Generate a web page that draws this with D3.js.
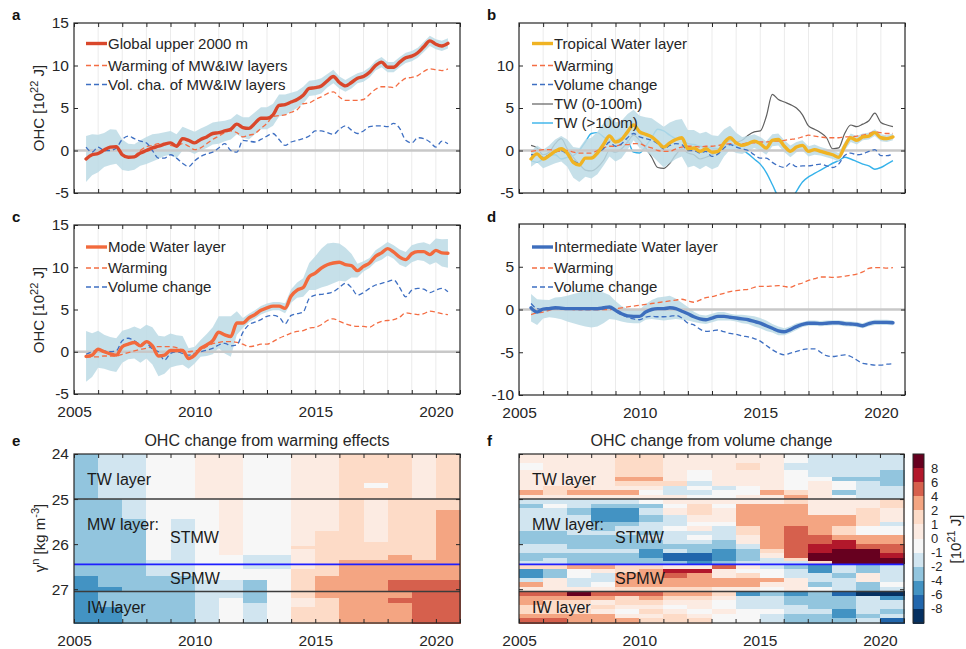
<!DOCTYPE html>
<html>
<head>
<meta charset="utf-8">
<script src="https://cdn.jsdelivr.net/npm/d3@7"></script>
<style>
  body { margin: 0; background: #fff; }
  svg { font-family: "Liberation Sans", Arial, Helvetica, sans-serif; }
</style>
</head>
<body>
<svg id="chart" width="966" height="649"></svg>
<script>
// ---- time grid (quarterly samples) ----
var quarters = [2005.5, 2005.75,
  2006, 2006.25, 2006.5, 2006.75, 2007, 2007.25, 2007.5, 2007.75,
  2008, 2008.25, 2008.5, 2008.75, 2009, 2009.25, 2009.5, 2009.75,
  2010, 2010.25, 2010.5, 2010.75, 2011, 2011.25, 2011.5, 2011.75,
  2012, 2012.25, 2012.5, 2012.75, 2013, 2013.25, 2013.5, 2013.75,
  2014, 2014.25, 2014.5, 2014.75, 2015, 2015.25, 2015.5, 2015.75,
  2016, 2016.25, 2016.5, 2016.75, 2017, 2017.25, 2017.5, 2017.75,
  2018, 2018.25, 2018.5, 2018.75, 2019, 2019.25, 2019.5, 2019.75,
  2020, 2020.25, 2020.5];

// ---- panel a : global upper 2000 m ----
var aMain = [-1.0, -0.5,
  -0.35, 0.05, 0.4, 0.45,  -0.5, -0.8, -0.75, -0.3,
  0.0, 0.3, 0.5, 0.75,  0.9, 0.5, 1.4, 1.2,
  0.9, 1.3, 1.6, 2.0,  2.1, 2.3, 2.5, 3.1,
  2.7, 2.6, 3.2, 3.8,  3.8, 4.2, 5.3, 5.4,
  5.7, 6.0, 6.5, 7.3,  7.4, 7.6, 8.2, 8.7,
  8.0, 7.6, 8.0, 8.5,  8.7, 9.2, 10.0, 10.4,
  9.8, 9.8, 10.4, 10.9,  11.1, 11.5, 12.2, 12.9,
  12.5, 12.3, 12.6];
var aWarm = [null, null,
  null, null, null, null,  null, null, -0.7, 0.0,
  0.45, 0.6, 0.8, 0.85,  0.6, 0.5, 0.8, 0.5,
  0.1, 0.3, 0.8, 1.3,  1.7, 2.1, 2.3, 2.1,
  1.6, 1.8, 2.0, 2.6,  3.2, 4.0, 4.1, 4.2,
  4.5, 4.8, 5.5, 5.6,  6.0, 6.3, 6.7, 6.9,
  6.3, 5.9, 5.9, 5.9,  6.0, 6.6, 7.2, 7.5,
  7.5, 7.4, 8.0, 8.5,  8.6, 8.8, 9.3, 9.6,
  9.5, 9.4, 9.6];
var aVol = [0.4, -0.2,
  0.4, 0.0, 0.0, 0.3,  1.3, 1.7, 1.4, 1.1,
  0.9, 0.0, -0.9, -0.9,  -0.5, -0.9, -1.5, -1.9,
  -1.2, -0.7, -0.4, -0.2,  0.3, 0.8, 0.0, -0.2,
  1.2, 1.1, 1.0, 1.3,  1.7, 2.0, 1.3, 0.6,
  1.0, 1.2, 1.4, 1.7,  2.3, 2.3, 2.1, 1.9,
  2.5, 2.9, 2.4, 2.0,  2.3, 2.8, 2.9, 2.9,
  2.8, 3.2, 2.6, 1.2,  0.9, 1.5, 1.4, 1.0,
  0.4, 1.1, 0.8];
var aBand = [2.7, 2.4,
  2.2, 2.0, 2.1, 2.0,  1.8, 1.6, 1.5, 1.5,
  1.6, 1.6, 1.5, 1.4,  1.4, 1.4, 1.4, 1.3,
  1.3, 1.3, 1.3, 1.3,  1.3, 1.2, 1.2, 1.2,
  1.2, 1.3, 1.3, 1.3,  1.3, 1.3, 1.3, 1.2,
  1.1, 1.0, 1.0, 0.9,  0.9, 0.9, 0.8, 0.8,
  0.7, 0.7, 0.7, 0.6,  0.6, 0.6, 0.6, 0.6,
  0.6, 0.6, 0.6, 0.6,  0.6, 0.6, 0.6, 0.6,
  0.6, 0.6, 0.6];

// ---- panel b : tropical water layer ----
var bMain = [-1.0, -0.4,
  -1.0, -0.6, -0.1, 0.2,  -0.3, -1.4, -1.7, -0.9,
  -0.9, -0.3, 0.7, 1.7,  1.0, 1.3, 2.2, 3.0,
  2.2, 1.9, 1.6, 1.0,  0.4, 0.9, 1.3, 1.5,
  0.2, 0.3, -0.1, 0.2,  -0.2, -0.1, 0.9, 1.5,
  0.9, 0.6, 0.8, 1.1,  0.8, 0.3, 1.2, 1.3,
  0.5, -0.1, 0.4, 0.6,  -0.1, 0.1, -0.1, -0.3,
  -0.5, -0.8, 0.5, 1.5,  1.2, 1.6, 1.7, 2.1,
  1.5, 1.4, 1.6];
var bWarm = [-0.1, 0.0,
  0.1, 0.1, 0.0, -0.1,  0.0, -0.2, -0.3, -0.3,
  -0.3, 0.0, 0.3, 0.5,  0.5, 0.7, 0.7, 0.8,
  0.8, 0.5, 0.3, 0.0,  -0.1, -0.1, 0.2, 0.4,
  0.5, 0.5, 0.4, 0.5,  0.5, 0.6, 0.7, 0.8,
  0.8, 0.8, 0.9, 0.9,  1.0, 1.0, 1.1, 1.1,
  1.2, 1.3, 1.4, 1.6,  1.8, 1.7, 1.6, 1.5,
  1.5, 1.5, 1.6, 1.6,  1.7, 1.8, 2.0, 2.2,
  2.1, 2.0, 2.0];
var bVol = [-0.5, -0.5,
  -0.8, -0.5, -0.2, 0.0,  -0.5, -1.2, -1.5, -1.0,
  -0.8, -0.3, 0.2, 1.0,  0.5, 0.8, 1.5, 2.0,
  1.6, 1.4, 1.2, 0.8,  0.2, 0.6, 0.8, 0.7,
  0.0, 0.0, -0.3, -0.1,  -0.7, -0.4, 0.3, 0.7,
  0.4, 0.2, 0.0, -0.5,  -0.9, -0.9, -1.4, -1.8,
  -2.0, -1.5, -1.9, -1.8,  -1.8, -1.7, -1.6, -1.8,
  -2.0, -1.6, -0.6, -0.3,  -0.5, -0.4, -0.1, 0.1,
  -0.6, -0.6, -0.4];
var bTopTW = [0.6, 0.3,
  -0.5, -0.2, 0.8, 1.4,  0.2, -0.8, -1.6, -2.3,
  -2.4, -2.0, -1.2, 0.0,  -0.2, 0.2, 1.0, 1.8,
  1.2, 0.3, -0.8, -2.0,  -2.1, -1.5, -0.5, 0.2,
  -0.3, -0.5, -1.0, -0.8,  -0.5, -0.1, 0.6, 1.2,
  1.0, 1.2, 1.8, 2.2,  2.3, 4.0, 6.6, 6.0,
  5.7, 5.4, 5.0, 4.2,  2.9, 2.5, 2.1, 1.5,
  0.2, 0.3, 2.0, 3.0,  2.8, 3.1, 3.5, 4.4,
  3.3, 3.0, 2.8];
var bDeepTW = [-1.2, -1.4,
  -1.0, -0.6, -0.5, -1.0,  -0.8, -0.6, 0.0, 1.0,
  2.0, 2.1, 1.6, 1.2,  1.2, 1.5, 1.2, -0.2,
  -0.3, 0.5, 1.5, 2.5,  2.3, 1.8, 1.4, 1.3,
  0.8, 0.7, 0.5, 0.4,  0.3, 0.2, 0.6, 0.8,
  0.5, 0.1, -0.4, -1.0,  -1.6, -2.6, -4.0, -5.5,
  -6.5, -6.0, -4.8, -3.7,  -3.1, -2.7, -2.3, -1.9,
  -1.5, -1.2, -0.8, -1.0,  -1.3, -1.6, -1.8, -2.2,
  -2.0, -1.6, -1.2];
var bBand = [0.9, 1.0,
  1.1, 1.2, 1.4, 1.5,  1.6, 1.8, 2.0, 2.2,
  2.4, 2.5, 2.5, 2.4,  2.3, 2.2, 2.1, 1.8,
  1.9, 2.0, 2.2, 2.3,  2.4, 2.4, 2.3, 2.2,
  2.2, 2.1, 2.1, 2.0,  2.0, 1.8, 1.6, 1.4,
  1.2, 1.0, 0.9, 0.8,  0.8, 0.8, 0.7, 0.7,
  0.7, 0.7, 0.6, 0.6,  0.6, 0.6, 0.5, 0.5,
  0.5, 0.5, 0.5, 0.5,  0.5, 0.4, 0.4, 0.4,
  0.4, 0.4, 0.4];

// ---- panel c : mode water layer ----
var cMain = [-0.55, -0.4,
  0.3, 0.0, -0.25, -0.4,  0.6, 0.9, 1.1, 0.7,
  1.2, 0.7, -0.5, -0.4,  0.15, 0.15, 0.15, -0.8,
  -0.4, 0.4, 0.8, 1.3,  2.3, 2.0, 1.8, 3.4,
  3.4, 4.0, 4.4, 4.9,  5.2, 5.4, 5.4, 5.15,
  6.6, 7.3, 7.6, 8.9,  9.3, 9.9, 10.3, 10.5,
  10.6, 10.3, 10.2, 9.6,  10.1, 10.5, 11.3, 11.7,
  12.2, 11.8, 11.2, 10.9,  11.6, 11.85, 11.85, 11.5,
  12.0, 11.7, 11.65];
var cWarm = [-0.7, -0.6,
  -0.6, -0.5, -0.5, -0.5,  -0.3, -0.1, 0.1, 0.3,
  0.4, 0.6, 0.6, 0.6,  0.6, 0.5, 0.2, 0.0,
  0.1, 0.2, 0.6, 0.95,  1.1, 1.2, 1.2, 1.1,
  0.9, 0.6, 0.7, 0.9,  0.9, 1.2, 1.6, 1.9,
  2.2, 2.4, 2.5, 2.8,  2.9, 3.2, 3.7, 3.9,
  3.6, 3.3, 3.1, 3.0,  3.0, 2.9, 3.3, 3.6,
  3.7, 3.8, 4.1, 4.6,  4.5, 4.4, 4.5, 4.8,
  4.7, 4.5, 4.4];
var cVol = [-0.3, 0.0,
  0.2, 0.1, 0.0, 0.1,  1.3, 1.6, 1.3, 0.9,
  1.0, 0.3, 0.0, -1.0,  -0.2, 0.0, -0.2, -0.4,
  -0.2, 0.0, 0.2, 0.4,  0.8, 1.0, 0.7, 0.8,
  2.3, 3.2, 3.5, 3.8,  4.2, 4.3, 4.1, 3.3,
  4.3, 4.5, 4.7, 6.3,  6.7, 6.8, 6.9, 7.1,
  7.6, 8.1, 7.6, 6.7,  7.0, 7.5, 7.9, 8.1,
  8.3, 8.5, 7.6, 6.5,  7.3, 7.5, 7.4, 7.0,
  7.3, 7.5, 7.1];
var cBand = [3.0, 2.6,
  2.2, 2.0, 2.0, 2.0,  1.9, 1.8, 1.9, 2.0,
  2.0, 2.2, 2.4, 2.2,  2.0, 1.8, 1.7, 1.2,
  1.0, 1.0, 1.3, 1.6,  1.9, 2.2, 2.4, 1.4,
  0.6, 0.5, 0.5, 0.5,  0.5, 0.5, 0.5, 0.6,
  0.8, 0.9, 1.1, 1.6,  2.0, 2.3, 2.5, 2.4,
  2.2, 2.0, 1.4, 0.8,  0.6, 0.6, 0.7, 0.8,
  0.8, 0.8, 0.9, 0.9,  1.0, 1.0, 1.1, 1.2,
  1.4, 1.6, 1.7];

// ---- panel d : intermediate water layer ----
var dMain = [0.2, -0.3,
  0.05, 0.1, 0.2, 0.15,  0.1, 0.1, 0.1, 0.1,
  0.1, 0.1, 0.2, 0.3,  -0.1, -0.5, -0.75, -0.8,
  -0.8, -0.3, 0.0, 0.1,  0.1, 0.2, 0.1, -0.2,
  -0.5, -0.85, -1.1, -1.2,  -1.0, -0.8, -0.8, -0.9,
  -1.0, -1.1, -1.2, -1.4,  -1.6, -1.9, -2.2, -2.5,
  -2.6, -2.35, -2.0, -1.75,  -1.6, -1.6, -1.65, -1.6,
  -1.55, -1.55, -1.65, -1.7,  -1.75, -1.9, -1.65, -1.5,
  -1.5, -1.5, -1.55];
var dWarm = [-0.6, -0.4,
  -0.3, -0.1, 0.1, 0.2,  0.1, 0.0, 0.0, 0.0,
  0.0, 0.0, 0.0, 0.0,  0.1, 0.2, 0.3, 0.4,
  0.5, 0.6, 0.7, 0.8,  0.9, 1.0, 1.1, 1.2,
  1.0, 0.85, 1.1, 1.4,  1.5, 1.7, 1.9, 2.1,
  2.2, 2.3, 2.35, 2.6,  2.7, 2.7, 2.75, 2.8,
  2.7, 2.6, 2.9, 3.1,  3.4, 3.6, 3.8, 3.8,
  3.75, 3.8, 3.9, 4.0,  4.15, 4.4, 4.8, 4.9,
  4.9, 4.85, 4.9];
var dVol = [0.7, 0.1,
  0.0, 0.1, 0.1, 0.1,  0.1, 0.1, 0.0, 0.0,
  0.0, 0.0, 0.1, 0.2,  -0.2, -0.6, -0.9, -1.1,
  -1.2, -0.9, -0.8, -0.85,  -0.85, -0.8, -0.7, -1.0,
  -1.6, -1.8, -2.3, -2.55,  -2.5, -2.4, -2.6, -2.8,
  -2.9, -3.1, -3.2, -3.4,  -3.7, -4.2, -4.7, -5.1,
  -5.3, -5.1, -4.9, -4.7,  -4.6, -4.6, -5.0, -5.4,
  -5.5, -5.4, -5.3, -5.5,  -5.9, -6.3, -6.4, -6.5,
  -6.5, -6.4, -6.35];
var dBand = [1.6, 1.5,
  1.1, 1.0, 1.2, 1.3,  1.5, 1.7, 1.9, 2.1,
  2.2, 2.1, 1.8, 1.4,  1.1, 0.9, 0.8, 0.8,
  0.8, 0.9, 1.1, 1.3,  1.4, 1.4, 1.2, 1.0,
  0.8, 0.6, 0.5, 0.5,  0.5, 0.5, 0.5, 0.4,
  0.4, 0.5, 0.5, 0.6,  0.6, 0.6, 0.5, 0.5,
  0.4, 0.4, 0.4, 0.3,  0.3, 0.3, 0.3, 0.3,
  0.3, 0.3, 0.3, 0.3,  0.3, 0.3, 0.3, 0.3,
  0.3, 0.3, 0.3];

// ---- heat maps (10^21 J, read as colour-bin values) ----
var yearEdges = [2005, 2006, 2007, 2008, 2009, 2010, 2011, 2012, 2013,
  2014, 2015, 2016, 2017, 2018, 2019, 2020, 2021];

var eRowEdges = [24, 24.65, 24.75, 25, 25.25, 25.45, 25.7, 25.95, 26.05, 26.1, 26.25,
  26.35, 26.45, 26.55, 26.7, 26.8, 26.95, 27.05, 27.2, 27.3, 27.4, 27.75];
var eValues = [
  [-3, -1.5, -1.5, -.5, -.5, .5, .5, -.5, -.5, .5, .5, 1.5, 1.5, 1.5, .5, 1.5],
  [-3, -1.5, -1.5, -.5, -.5, .5, .5, -.5, -.5, .5, .5, 1.5, -.5, 1.5, .5, 1.5],
  [-3, -1.5, -1.5, -.5, -.5, .5, .5, -.5, -.5, .5, .5, 1.5, 1.5, 1.5, .5, 1.5],
  [-3, -3, -1.5, -.5, -.5, -.5, .5, -.5, -.5, .5, .5, 1.5, .5, 1.5, 1.5, 1.5],
  [-3, -3, -1.5, -.5, -.5, -.5, .5, -.5, -.5, .5, .5, 1.5, .5, 1.5, 1.5, 3],
  [-3, -3, -3, -.5, -1.5, -.5, .5, -.5, -.5, .5, .5, 1.5, .5, 1.5, 1.5, 3],
  [-3, -3, -3, -.5, -1.5, -.5, .5, -.5, -.5, .5, 1.5, 1.5, .5, 1.5, 1.5, 3],
  [-3, -3, -3, -.5, -1.5, -.5, .5, -.5, -.5, .5, 1.5, 1.5, 1.5, 1.5, 1.5, 3],
  [-3, -3, -3, -.5, -1.5, -.5, .5, -.5, -.5, 1.5, 1.5, 1.5, 1.5, 1.5, 1.5, 3],
  [-3, -3, -3, -.5, -1.5, -.5, .5, -.5, -.5, .5, 1.5, 1.5, 1.5, 1.5, 1.5, 3],
  [-3, -3, -3, -.5, -1.5, -.5, -.5, -1.5, -1.5, .5, 1.5, 1.5, 1.5, 3, 1.5, 3],
  [-3, -3, -3, -1.5, -1.5, -.5, -.5, -1.5, -1.5, .5, 1.5, 3, 3, 3, 3, 3],
  [-3, -3, -3, -1.5, -1.5, -.5, -.5, -1.5, -1.5, .5, 1.5, 3, 3, 3, 3, 3],
  [-3, -3, -3, -1.5, -1.5, -.5, -.5, -.5, -.5, 1.5, 1.5, 3, 3, 3, 3, 3],
  [-5, -3, -3, -3, -3, -.5, -.5, -.5, -.5, 1.5, 3, 3, 3, 3, 3, 3],
  [-5, -3, -3, -3, -3, -1.5, -1.5, -3, -.5, 1.5, 3, 3, 3, 5, 5, 5],
  [-5, -5, -3, -3, -3, -1.5, -1.5, -3, -.5, 1.5, 3, 3, 3, 5, 5, 5],
  [-5, -3, -3, -3, -3, -1.5, -1.5, -3, -.5, 1.5, 3, 3, 3, 3, 5, 5],
  [-5, -3, -3, -3, -3, -1.5, -.5, -3, -.5, .5, 1.5, 3, 3, 5, 5, 5],
  [-5, -3, -3, -3, -3, -1.5, -.5, -1.5, -.5, .5, 1.5, 3, 3, 3, 5, 5],
  [-5, -5, -3, -3, -3, -1.5, -.5, -1.5, -.5, 1.5, 1.5, 3, 3, 3, 5, 5]
];

var fRowEdges = [24.0, 24.2, 24.35, 24.5, 24.6, 24.7, 24.8, 24.9, 25.0, 25.1, 25.2, 25.35,
  25.5, 25.6, 25.7, 25.8, 25.9, 26.0, 26.1, 26.2, 26.3, 26.37, 26.45, 26.55, 26.65,
  26.75, 26.85, 26.95, 27.05, 27.15, 27.25, 27.35, 27.45, 27.55, 27.65, 27.75];
var fValues = [
  [.5, .5, .5, .5, 1.5, 1.5, .5, .5, .5, .5, .5, -.5, -1.5, -1.5, -1.5, -1.5],
  [-.5, .5, .5, .5, 1.5, 1.5, .5, .5, .5, 1.5, .5, -1.5, -1.5, -1.5, -1.5, -1.5],
  [.5, .5, .5, .5, 1.5, 1.5, .5, -.5, .5, .5, .5, -.5, -1.5, -1.5, -1.5, -3],
  [.5, .5, .5, .5, 3, 3, .5, -.5, .5, .5, .5, -.5, -.5, -3, -3, -3],
  [.5, .5, .5, .5, 1.5, 1.5, 1.5, -1.5, .5, .5, .5, -.5, .5, -.5, -1.5, -3],
  [.5, 1.5, 1.5, .5, .5, .5, -1.5, -.5, -1.5, -.5, .5, -.5, .5, -.5, -1.5, -1.5],
  [3, 1.5, 3, 3, 3, -.5, -1.5, -1.5, -.5, -.5, 3, 1.5, .5, -3, -1.5, -1.5],
  [.5, .5, .5, .5, .5, .5, .5, -.5, -.5, .5, .5, 3, .5, -.5, -1.5, -1.5],
  [-1.5, -1.5, -1.5, -1.5, -1.5, -.5, .5, .5, .5, .5, .5, 1.5, .5, .5, .5, 1.5],
  [-3, -.5, -1.5, -3, -3, -3, -.5, 1.5, -.5, 3, 3, 3, .5, .5, .5, 1.5],
  [-1.5, -1.5, -3, -5, -5, -1.5, .5, 1.5, .5, 3, 3, 3, .5, .5, 1.5, .5],
  [-1.5, -1.5, -1.5, -5, -5, -3, -1.5, .5, .5, 3, 3, 3, 3, 3, 1.5, .5],
  [-1.5, -1.5, -1.5, -3, -3, -1.5, -1.5, -.5, -.5, 3, 3, 3, 3, 3, 1.5, -1.5],
  [-1.5, -1.5, -1.5, -3, -1.5, -1.5, -.5, .5, -1.5, 1.5, 3, 5, 3, 1.5, -.5, -.5],
  [-3, -3, -1.5, -1.5, -1.5, -3, -1.5, -1.5, -1.5, 1.5, 3, 5, 3, 1.5, -.5, -.5],
  [-3, -3, -3, -3, -3, -1.5, -1.5, -.5, -1.5, .5, 3, 5, 5, 3, 3, 3],
  [-3, -3, -3, -3, -3, -3, -1.5, -1.5, -3, .5, 3, 5, 5, 7, 3, 3],
  [-1.5, -1.5, -3, -3, -3, -3, -3, -3, -3, -1.5, 3, 5, 7, 7, 5, 5],
  [-1.5, -1.5, -1.5, -1.5, -1.5, -5, -1.5, -3, -5, -3, 1.5, 5, 7, 9, 9, 5],
  [-3, -3, -3, -3, -3, -5, -7, -7, -5, -3, .5, 5, 9, 9, 9, 7],
  [-3, -1.5, -3, -3, -3, -3, -7, -7, -5, -3, -1.5, 1.5, 9, 9, 9, 9],
  [-1.5, -1.5, -3, -3, -3, -3, -3, -5, -3, -1.5, -1.5, -1.5, 1.5, 9, 9, 9],
  [1.5, 1.5, 3, 3, 1.5, 1.5, .5, .5, 5, .5, -1.5, -3, -5, -1.5, -3, -1.5],
  [-5, -3, -.5, .5, 1.5, 3, 7, 7, .5, -.5, -.5, -1.5, -5, -1.5, -3, -1.5],
  [-5, -3, -.5, -1.5, 3, 3, 5, 3, .5, 1.5, -.5, -1.5, -1.5, -3, .5, -1.5],
  [-1.5, .5, -1.5, -1.5, 3, 3, 3, 3, 3, 3, 3, .5, -1.5, -1.5, .5, -1.5],
  [3, .5, -1.5, -.5, 3, 3, 3, 3, 3, 3, .5, .5, -3, -1.5, -3, -.5],
  [.5, .5, .5, .5, 1.5, 1.5, 1.5, 1.5, .5, .5, -.5, .5, -.5, -1.5, -3, -1.5],
  [5, 5, 9, 5, 5, 5, 3, 3, 1.5, -5, -3, -5, -3, -7, -9, -9],
  [3, 3, 3, 3, 1.5, 3, 1.5, 1.5, .5, -1.5, -1.5, -3, -3, -3, -1.5, -5],
  [3, 1.5, 1.5, .5, 1.5, 1.5, .5, .5, -.5, -1.5, -1.5, -3, -3, -3, -1.5, -1.5],
  [1.5, 1.5, .5, 1.5, .5, .5, -.5, .5, -.5, -1.5, -1.5, -1.5, -3, -3, -1.5, -1.5],
  [1.5, 1.5, 1.5, .5, -.5, 1.5, .5, -.5, .5, -.5, -.5, -1.5, -1.5, -5, -1.5, -3],
  [3, 3, 3, 3, .5, .5, 1.5, .5, -.5, -.5, -1.5, -3, -3, -5, -3, -1.5],
  [5, 5, 3, 3, 3, 1.5, 1.5, 1.5, -.5, -.5, -1.5, -3, -3, -3, -1.5, -7]
];

var binEdges = [-8, -6, -4, -2, -1, 0, 1, 2, 4, 6, 8];
var binColors = ["#053061", "#2166ac", "#4393c3", "#92c5de", "#d1e5f0", "#f7f7f7",
  "#fcebe2", "#fddbc7", "#f4a582", "#d6604d", "#b2182b", "#67001f"];
var colorbarLabels = [8, 6, 4, 2, 1, 0, -1, -2, -4, -6, -8];

// ---- styling ----
var FONT = '"Liberation Sans", Arial, Helvetica, sans-serif';
var ink = "#262626";
var bandColor = "#bcdbe5";
var warmColor = "#f46d43";
var volColor = "#3e6fc2";

var svg = d3.select("#chart");
var heatColor = d3.scaleThreshold().domain(binEdges).range(binColors);
var allTicksX = yearEdges;

function drawAxes(g, x, y, box, xLabels, yTicks, yLabels) {
  g.append("g").attr("transform", "translate(0," + box.bottom + ")")
    .call(d3.axisBottom(x).tickValues(allTicksX).tickSize(-4).tickPadding(12)
      .tickFormat(function(d) { return xLabels && d % 5 === 0 && d < 2021 ? String(d) : ""; }));
  g.append("g").attr("transform", "translate(0," + box.top + ")")
    .call(d3.axisTop(x).tickValues(allTicksX).tickSize(-4).tickFormat(""));
  g.append("g").attr("transform", "translate(" + box.left + ",0)")
    .call(d3.axisLeft(y).tickValues(yTicks).tickSize(-4).tickPadding(5)
      .tickFormat(function(d) { return yLabels ? String(d) : ""; }));
  g.append("g").attr("transform", "translate(" + box.right + ",0)")
    .call(d3.axisRight(y).tickValues(yTicks).tickSize(-4).tickFormat(""));
  g.selectAll(".domain").remove();
  g.selectAll(".tick line").attr("stroke", ink).attr("stroke-width", 1);
  g.selectAll(".tick text").attr("fill", ink).attr("font-size", 15.5).attr("font-family", FONT);
  g.append("rect")
    .attr("x", box.left).attr("y", box.top)
    .attr("width", box.right - box.left).attr("height", box.bottom - box.top)
    .attr("fill", "none").attr("stroke", ink).attr("stroke-width", 1.2);
}

function panelLetter(letter, x, y) {
  svg.append("text").attr("x", x).attr("y", y).text(letter)
    .attr("font-size", 15).attr("font-weight", "bold").attr("fill", "#111");
}

function ohcLabel(cx, cy) {
  var t = svg.append("text")
    .attr("transform", "translate(" + cx + "," + cy + ") rotate(-90)")
    .attr("text-anchor", "middle").attr("font-size", 15).attr("fill", ink);
  t.append("tspan").text("OHC [10");
  t.append("tspan").attr("dy", -6).attr("font-size", 11).text("22");
  t.append("tspan").attr("dy", 6).text(" J]");
}

function linePanel(cfg) {
  var x = d3.scaleLinear().domain([2005, 2021]).range([cfg.left, cfg.right]);
  var y = d3.scaleLinear().domain(cfg.ydom).range([cfg.bottom, cfg.top]);
  var g = svg.append("g");
  var clipId = "clip-" + cfg.id;
  g.append("clipPath").attr("id", clipId).append("rect")
    .attr("x", cfg.left).attr("y", cfg.top)
    .attr("width", cfg.right - cfg.left).attr("height", cfg.bottom - cfg.top);

  var plot = g.append("g").attr("clip-path", "url(#" + clipId + ")");

  // vertical year grid
  plot.selectAll("line.grid").data(allTicksX.slice(1, -1)).join("line")
    .attr("class", "grid")
    .attr("x1", function(d) { return x(d); }).attr("x2", function(d) { return x(d); })
    .attr("y1", cfg.top).attr("y2", cfg.bottom)
    .attr("stroke", "#ebebeb").attr("stroke-width", 1);

  var line = d3.line()
    .defined(function(d) { return d != null; })
    .x(function(d, i) { return x(quarters[i]); })
    .y(function(d) { return y(d); })
    .curve(d3.curveMonotoneX);

  function drawSeries(list) {
    list.forEach(function(s) {
      plot.append("path").datum(s.v).attr("d", line)
        .attr("fill", "none").attr("stroke", s.color)
        .attr("stroke-width", s.w).attr("stroke-dasharray", s.dash || null)
        .attr("stroke-linejoin", "round");
    });
  }

  // series that sit underneath the shading
  drawSeries(cfg.under || []);

  // uncertainty band around the main curve
  var area = d3.area()
    .x(function(d, i) { return x(quarters[i]); })
    .y0(function(d, i) { return y(cfg.main[i] - cfg.band[i]); })
    .y1(function(d, i) { return y(cfg.main[i] + cfg.band[i]); })
    .curve(d3.curveLinear);
  plot.append("path").datum(cfg.main).attr("d", area)
    .attr("fill", bandColor).attr("fill-opacity", 0.85).attr("stroke", "none");

  // zero line
  plot.append("line")
    .attr("x1", cfg.left).attr("x2", cfg.right)
    .attr("y1", y(0)).attr("y2", y(0))
    .attr("stroke", "#c8c8c8").attr("stroke-width", 2.5);

  drawSeries(cfg.series);
  plot.append("path").datum(cfg.main).attr("d", line)
    .attr("fill", "none").attr("stroke", cfg.mainColor)
    .attr("stroke-width", 3.4).attr("stroke-linejoin", "round").attr("stroke-linecap", "round");

  drawAxes(g, x, y, cfg, cfg.xLabels, cfg.yTicks, true);

  // legend
  var lg = g.append("g");
  cfg.legend.forEach(function(item, k) {
    var yy = cfg.legendY[k];
    lg.append("line")
      .attr("x1", cfg.legendX).attr("x2", cfg.legendX + 21)
      .attr("y1", yy).attr("y2", yy)
      .attr("stroke", item.color).attr("stroke-width", item.w)
      .attr("stroke-dasharray", item.dash || null);
    lg.append("text").attr("x", cfg.legendX + 22).attr("y", yy)
      .attr("dy", "0.36em").attr("font-size", 15).attr("fill", ink).text(item.label);
  });
}

function heatPanel(cfg) {
  var x = d3.scaleLinear().domain([2005, 2021]).range([cfg.left, cfg.right]);
  var y = d3.scaleLinear().domain([24, 27.75]).range([cfg.top, cfg.bottom]);
  var g = svg.append("g");
  var cells = [];
  cfg.values.forEach(function(row, r) {
    row.forEach(function(v, c) {
      cells.push({y0: cfg.rows[r], y1: cfg.rows[r + 1], x0: yearEdges[c], x1: yearEdges[c + 1], v: v});
    });
  });
  g.append("g").selectAll("rect").data(cells).join("rect")
    .attr("x", function(d) { return x(d.x0); })
    .attr("y", function(d) { return y(d.y0); })
    .attr("width", function(d) { return x(d.x1) - x(d.x0) + 0.5; })
    .attr("height", function(d) { return y(d.y1) - y(d.y0) + 0.5; })
    .attr("fill", function(d) { return heatColor(d.v); })
    .attr("shape-rendering", "crispEdges");

  // layer boundaries
  [25, 27.05].forEach(function(b) {
    g.append("line").attr("x1", cfg.left).attr("x2", cfg.right)
      .attr("y1", y(b)).attr("y2", y(b))
      .attr("stroke", "#3c3c3c").attr("stroke-width", 1.4);
  });
  g.append("line").attr("x1", cfg.left).attr("x2", cfg.right)
    .attr("y1", y(26.45)).attr("y2", y(26.45))
    .attr("stroke", "#1f1fff").attr("stroke-width", 1.6);

  drawAxes(g, x, y, cfg, true, [24, 25, 26, 27], cfg.yLabels);

  // title
  g.append("text").attr("x", (cfg.left + cfg.right) / 2).attr("y", cfg.top - 8)
    .attr("text-anchor", "middle").attr("font-size", 16).attr("fill", ink).text(cfg.title);

  // layer annotations
  var ax = cfg.left + 13, bx = cfg.left + 96;
  var labels = [
    {t: "TW layer", x: ax, y: 485},
    {t: "MW layer:", x: ax, y: 530},
    {t: "STMW", x: bx, y: 543},
    {t: "SPMW", x: bx, y: 584},
    {t: "IW layer", x: ax, y: 613}
  ];
  labels.forEach(function(l) {
    g.append("text").attr("x", l.x).attr("y", l.y)
      .attr("font-size", 16).attr("fill", "#1a1a1a").text(l.t);
  });
}

// ---- panels a-d ----
var aLegend = [
  {label: "Global upper 2000 m", color: "#d9472b", w: 3.4},
  {label: "Warming of MW&IW layers", color: warmColor, w: 1.3, dash: "5,3"},
  {label: "Vol. cha. of MW&IW layers", color: volColor, w: 1.3, dash: "5,3"}
];
linePanel({id: "a", left: 74, right: 460, top: 23, bottom: 193, ydom: [-5, 15],
  yTicks: [-5, 0, 5, 10, 15], xLabels: false,
  main: aMain, band: aBand, mainColor: "#d9472b",
  series: [{v: aWarm, color: warmColor, w: 1.3, dash: "5,3"},
           {v: aVol, color: volColor, w: 1.3, dash: "5,3"}],
  legend: aLegend, legendX: 86, legendY: [43.5, 65.5, 84.5]});

var bLegend = [
  {label: "Tropical Water layer", color: "#f0b323", w: 3.4},
  {label: "Warming", color: warmColor, w: 1.3, dash: "5,3"},
  {label: "Volume change", color: volColor, w: 1.3, dash: "5,3"},
  {label: "TW (0-100m)", color: "#5f5f5f", w: 1.2},
  {label: "TW (>100m)", color: "#35b2ea", w: 1.4}
];
linePanel({id: "b", left: 519, right: 905, top: 23, bottom: 193, ydom: [-5, 15],
  yTicks: [-5, 0, 5, 10], xLabels: false,
  main: bMain, band: bBand, mainColor: "#f0b323",
  under: [{v: bTopTW, color: "#5f5f5f", w: 1.2},
          {v: bDeepTW, color: "#35b2ea", w: 1.4}],
  series: [{v: bWarm, color: warmColor, w: 1.3, dash: "5,3"},
           {v: bVol, color: volColor, w: 1.3, dash: "5,3"}],
  legend: bLegend, legendX: 532, legendY: [43.5, 65.5, 84.5, 104, 123]});

var cLegend = [
  {label: "Mode Water layer", color: "#f26a3d", w: 3.4},
  {label: "Warming", color: warmColor, w: 1.3, dash: "5,3"},
  {label: "Volume change", color: volColor, w: 1.3, dash: "5,3"}
];
linePanel({id: "c", left: 74, right: 460, top: 225, bottom: 394, ydom: [-5, 15],
  yTicks: [-5, 0, 5, 10, 15], xLabels: true,
  main: cMain, band: cBand, mainColor: "#f26a3d",
  series: [{v: cWarm, color: warmColor, w: 1.3, dash: "5,3"},
           {v: cVol, color: volColor, w: 1.3, dash: "5,3"}],
  legend: cLegend, legendX: 86, legendY: [247, 268, 287]});

var dLegend = [
  {label: "Intermediate Water layer", color: "#3d6ebd", w: 3.4},
  {label: "Warming", color: warmColor, w: 1.3, dash: "5,3"},
  {label: "Volume change", color: volColor, w: 1.3, dash: "5,3"}
];
linePanel({id: "d", left: 519, right: 905, top: 224, bottom: 395, ydom: [-10, 10],
  yTicks: [-10, -5, 0, 5], xLabels: true,
  main: dMain, band: dBand, mainColor: "#3d6ebd",
  series: [{v: dWarm, color: warmColor, w: 1.3, dash: "5,3"},
           {v: dVol, color: volColor, w: 1.3, dash: "5,3"}],
  legend: dLegend, legendX: 532, legendY: [247, 268, 287]});

ohcLabel(44, 108);
ohcLabel(44, 310);

// ---- panels e, f ----
heatPanel({left: 74, right: 460, top: 454, bottom: 623, rows: eRowEdges, values: eValues,
  yLabels: true, title: "OHC change from warming effects"});
heatPanel({left: 519, right: 904, top: 454, bottom: 623, rows: fRowEdges, values: fValues,
  yLabels: false, title: "OHC change from volume change"});

// gamma-n label
var gl = svg.append("text")
  .attr("transform", "translate(45,538) rotate(-90)")
  .attr("text-anchor", "middle").attr("font-size", 15).attr("fill", ink);
gl.append("tspan").text("\u03b3");
gl.append("tspan").attr("dy", -6).attr("font-size", 11).text("n");
gl.append("tspan").attr("dy", 6).text(" [kg m");
gl.append("tspan").attr("dy", -6).attr("font-size", 11).text("-3");
gl.append("tspan").attr("dy", 6).text("]");

// ---- colour bar ----
var cb = svg.append("g");
var cbY = d3.scaleLinear().domain([0, binColors.length]).range([454, 623]);
var cbColors = binColors.slice().reverse();
cb.selectAll("rect.bin").data(cbColors).join("rect")
  .attr("class", "bin")
  .attr("x", 913).attr("width", 11)
  .attr("y", function(d, i) { return cbY(i); })
  .attr("height", function(d, i) { return cbY(i + 1) - cbY(i) + 0.5; })
  .attr("fill", function(d) { return d; })
  .attr("shape-rendering", "crispEdges");
cb.append("rect").attr("x", 913).attr("y", 454).attr("width", 11).attr("height", 169)
  .attr("fill", "none").attr("stroke", ink).attr("stroke-width", 1);
cb.selectAll("text.lab").data(colorbarLabels).join("text")
  .attr("class", "lab")
  .attr("x", 931).attr("y", function(d, i) { return cbY(i + 1); })
  .attr("dy", "0.35em").attr("font-size", 13).attr("fill", ink)
  .text(function(d) { return String(d); });
var ul = svg.append("text")
  .attr("transform", "translate(961,539) rotate(-90)")
  .attr("text-anchor", "middle").attr("font-size", 15).attr("fill", ink);
ul.append("tspan").text("[10");
ul.append("tspan").attr("dy", -6).attr("font-size", 11).text("21");
ul.append("tspan").attr("dy", 6).text(" J]");

// panel letters
panelLetter("a", 12, 20);
panelLetter("b", 487, 20);
panelLetter("c", 12, 222);
panelLetter("d", 487, 222);
panelLetter("e", 12, 446);
panelLetter("f", 487, 446);
</script>
</body>
</html>
